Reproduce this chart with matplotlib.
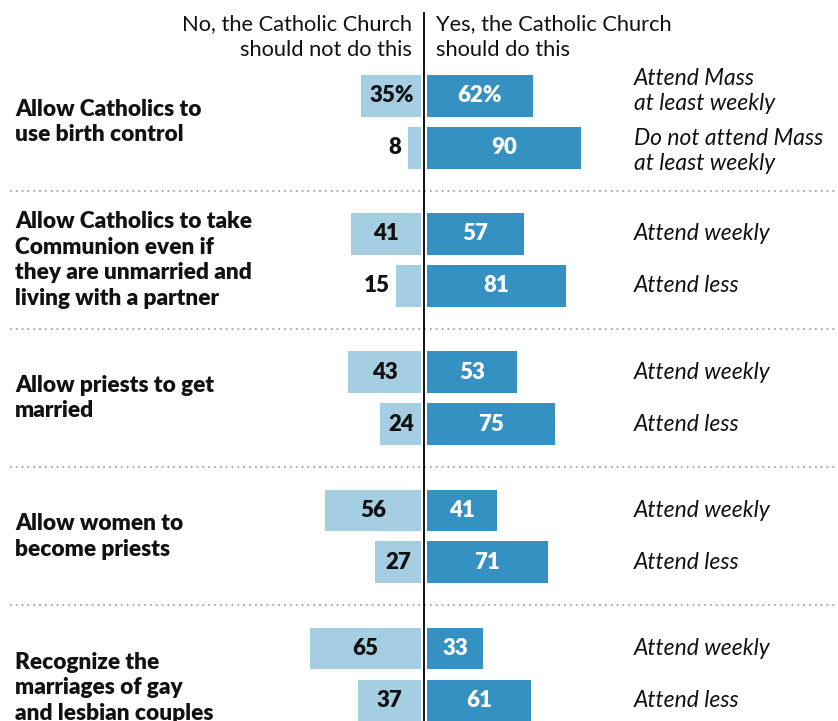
import matplotlib
matplotlib.use("Agg")
import matplotlib.pyplot as plt

# ------ data ------
groups = [
    "Allow Catholics to\nuse birth control",
    "Allow Catholics to take\nCommunion even if\nthey are unmarried and\nliving with a partner",
    "Allow priests to get\nmarried",
    "Allow women to\nbecome priests",
    "Recognize the\nmarriages of gay\nand lesbian couples",
]
row_labels = [
    ["Attend Mass\nat least weekly", "Do not attend Mass\nat least weekly"],
    ["Attend weekly", "Attend less"],
    ["Attend weekly", "Attend less"],
    ["Attend weekly", "Attend less"],
    ["Attend weekly", "Attend less"],
]
no_vals = [[35, 8], [41, 15], [43, 24], [56, 27], [65, 37]]
yes_vals = [[62, 90], [57, 81], [53, 75], [41, 71], [33, 61]]

header_no = "No, the Catholic Church\nshould not do this"
header_yes = "Yes, the Catholic Church\nshould do this"

light = "#a6cee3"
dark = "#3491c2"
font = "Lato"

# ------ layout (axes in pixel-like units) ------
W, H = 838, 721
center = 424
scale = 1.715          # px per percentage point
gap = 2.6 / scale      # gap between center line and bars
group_pitch = 138.2
row_pitch = 51.9
first_row = 95.8
bar_h = 41.8

fig = plt.figure(figsize=(W / 100, H / 100), dpi=100)
ax = fig.add_axes([0, 0, 1, 1])
ax.set_xlim(-center / scale, (W - center) / scale)
ax.set_ylim(H, 0)
ax.axis("off")

for g, name in enumerate(groups):
    ys = [first_row + g * group_pitch + j * row_pitch for j in range(2)]
    for j, y in enumerate(ys):
        n = no_vals[g][j]
        v = yes_vals[g][j]
        ax.barh(y, -n, left=-gap, height=bar_h, color=light)
        ax.barh(y, v, left=gap, height=bar_h, color=dark)
        sfx = "%" if (g == 0 and j == 0) else ""
        if n < 20:
            ax.text(-gap - n - 6 / scale, y, f"{n}{sfx}", ha="right", va="center",
                    fontsize=16, fontweight="heavy", family=font, color="#111111")
        else:
            ax.text(-gap - n / 2, y, f"{n}{sfx}", ha="center", va="center",
                    fontsize=16, fontweight="heavy", family=font, color="#111111")
        ax.text(gap + v / 2, y, f"{v}{sfx}", ha="center", va="center",
                fontsize=16, fontweight="heavy", family=font, color="white")
        # two-line labels sit a little apart from the bar centres
        shift = 0
        if "\n" in row_labels[g][j]:
            shift = -5 if j == 0 else 3
        ax.text((634 - center) / scale, y + shift, row_labels[g][j], ha="left",
                va="center", fontsize=16.5, style="italic", family=font,
                color="#111111", linespacing=1.22)
    # group label
    if g == len(groups) - 1:
        ax.text(-(center - 15) / scale, 652, name, ha="left", va="top",
                fontsize=16.3, fontweight="heavy", family=font, color="#111111",
                linespacing=1.26)
    else:
        ax.text(-(center - 15) / scale, (ys[0] + ys[1]) / 2, name, ha="left",
                va="center", fontsize=16.3, fontweight="heavy", family=font,
                color="#111111", linespacing=1.26)
    # dotted separator
    if g < len(groups) - 1:
        ysep = ys[1] + (group_pitch - row_pitch) / 2
        ax.plot([-(center - 10) / scale, (W - center) / scale], [ysep, ysep],
                color="#999999", linestyle=(0, (1, 2.5)), linewidth=1.2)

# center line
ax.plot([0, 0], [13, H], color="black", linewidth=1.3)

# headers
ax.text(-12 / scale, 37, header_no, ha="right", va="center", fontsize=15.75,
        family=font, color="#111111", linespacing=1.36)
ax.text(12 / scale, 37, header_yes, ha="left", va="center", fontsize=15.75,
        family=font, color="#111111", linespacing=1.36)

fig.savefig("out.png", dpi=100)
